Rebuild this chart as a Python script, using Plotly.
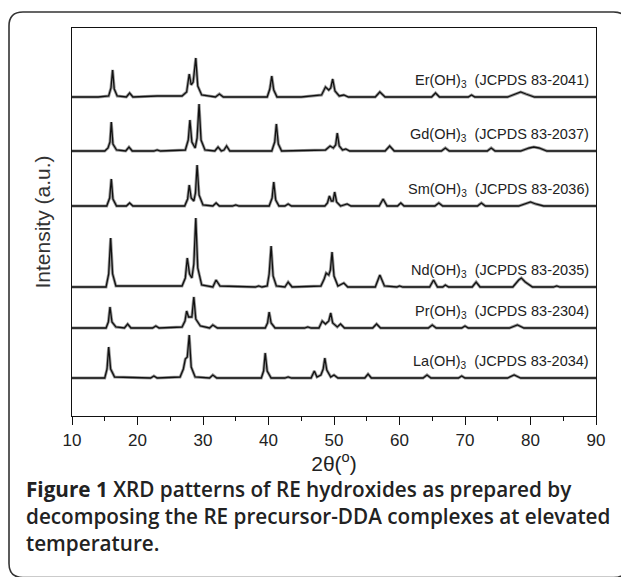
import plotly.graph_objects as go

# ---- data (2theta in degrees, intensity in a.u. above each pattern's own baseline) ----
Er_pts = [(10,1),(14,1),(15.6,2),(15.95,10),(16.2,28),(16.45,9),(16.9,2),(18.3,1),(18.8,5),(19.3,1),(23,2),(26.8,2),(27.5,6),(27.9,24),(28.2,13),(28.5,16),(28.9,40),(29.2,12),(29.8,3),(31.9,1),(32.5,4),(33.1,1),(39.8,1),(40.2,9),(40.5,22),(40.8,8),(41.3,1),(45,1),(48.1,3),(48.7,11),(49.2,8),(49.5,10),(49.8,19),(50.15,7),(50.8,2),(51.5,3),(52.2,1),(56.3,1),(57.0,6),(57.8,1),(64.9,1),(65.5,5),(66.1,1),(70.5,1),(71.0,3),(71.5,1),(76.5,1),(77.8,4),(78.5,6),(79.3,4),(80.6,1),(90,1)]
Gd_pts = [(10,1),(15.0,1),(15.5,4),(15.8,10),(16.0,30),(16.25,8),(16.8,2),(18.2,1),(18.7,5),(19.2,1),(22.5,1),(23.0,2),(23.5,1),(27.3,2),(27.75,12),(28.0,32),(28.3,10),(28.8,4),(29.1,14),(29.4,48),(29.7,12),(30.3,2),(31.8,1),(32.3,5),(32.8,1),(33.2,2),(33.6,6),(34.1,1),(40.5,1),(40.95,10),(41.2,28),(41.5,8),(42.0,1),(48.7,2),(49.4,6),(49.9,4),(50.25,7),(50.5,19),(50.8,6),(51.3,2),(51.8,3),(52.4,1),(57.8,1),(58.5,6),(59.2,1),(66.4,1),(67.0,4),(67.6,1),(73.4,1),(74.0,4),(74.6,1),(78.5,1),(79.8,4),(80.5,5),(81.3,4),(82.5,1),(90,1)]
Sm_pts = [(10,1),(15.3,1),(15.75,9),(16.0,28),(16.25,8),(16.8,1),(18.3,1),(18.8,4),(19.3,1),(27.2,1),(27.65,8),(27.9,22),(28.2,9),(28.6,6),(28.85,14),(29.1,42),(29.4,12),(30.0,2),(31.5,1),(32.0,4),(32.5,1),(34.5,1),(35.0,2),(35.5,1),(40.1,1),(40.55,9),(40.8,25),(41.1,7),(41.6,1),(42.5,1),(43.0,3),(43.5,1),(48.6,1),(49.0,4),(49.3,11),(49.6,6),(49.85,6),(50.1,15),(50.4,5),(51.0,1),(52.0,3),(52.6,1),(56.9,1),(57.5,8),(58.1,1),(59.7,1),(60.2,4),(60.7,1),(65.4,1),(66.0,4),(66.6,1),(71.9,1),(72.5,4),(73.1,1),(78.2,1),(79.4,4),(80.0,5),(80.8,3),(82.0,1),(90,1)]
Nd_pts = [(10,1),(15.2,1),(15.6,14),(15.9,50),(16.2,14),(16.7,2),(20,2),(26.8,2),(27.3,10),(27.6,30),(27.95,14),(28.3,10),(28.6,24),(28.9,70),(29.2,20),(29.8,3),(31.5,1),(32.0,8),(32.6,2),(38.0,1),(38.5,2),(39.0,1),(39.8,2),(40.1,14),(40.4,42),(40.7,12),(41.2,2),(42.5,1),(43.0,6),(43.6,1),(48.0,2),(48.5,9),(48.8,15),(49.2,13),(49.45,18),(49.7,36),(50.0,12),(50.6,2),(51.5,5),(52.1,1),(56.3,1),(57.0,13),(57.7,2),(59.6,1),(60.0,2),(60.5,1),(64.6,1),(65.2,8),(65.8,1),(66.6,1),(67.0,3),(67.5,1),(71.1,1),(71.7,6),(72.3,1),(77.3,1),(78.2,8),(78.6,10),(79.2,6),(80.3,1),(83.5,1),(84.0,2),(84.5,1),(90,1)]
Pr_pts = [(10,1),(15.2,1),(15.55,7),(15.8,22),(16.1,7),(16.7,2),(18.0,1),(18.5,5),(19.0,1),(22.3,1),(22.8,3),(23.3,1),(26.8,2),(27.25,8),(27.5,18),(27.8,12),(28.3,12),(28.6,32),(28.9,10),(29.6,3),(31.0,1),(31.5,4),(32.2,1),(39.5,1),(39.85,6),(40.1,17),(40.4,6),(41.0,1),(45.5,1),(46.0,2),(46.5,1),(47.7,1),(48.2,8),(48.7,5),(49.2,8),(49.5,16),(49.8,6),(50.5,2),(51.0,5),(51.6,1),(55.9,1),(56.5,5),(57.1,1),(64.4,1),(65.0,4),(65.6,1),(69.5,1),(70.0,3),(70.5,1),(76.8,1),(78.0,4),(79.0,1),(90,1)]
La_pts = [(10,1),(15.0,1),(15.35,10),(15.6,32),(15.9,10),(16.5,2),(22.0,1),(22.5,3),(23.0,1),(26.5,2),(27.0,10),(27.3,20),(27.6,22),(27.9,44),(28.2,12),(28.8,2),(31.0,1),(31.5,4),(32.1,1),(38.9,1),(39.25,8),(39.5,26),(39.8,8),(40.4,1),(42.5,1),(43.0,2),(43.5,1),(46.5,1),(47.0,8),(47.4,2),(48.0,4),(48.35,10),(48.6,21),(48.9,9),(49.5,2),(50.0,4),(50.6,1),(54.7,1),(55.2,5),(55.7,1),(63.6,1),(64.2,4),(64.8,1),(69.0,1),(69.5,3),(70.0,1),(76.5,1),(77.5,4),(78.5,1),(90,1)]

series_names = ["Er", "Gd", "Sm", "Nd", "Pr", "La"]
series_points = [Er_pts, Gd_pts, Sm_pts, Nd_pts, Pr_pts, La_pts]
series_offsets = [318, 264, 209, 128, 87, 37]
series_labels = ["Er(OH)<sub>3</sub>  (JCPDS 83-2041)", "Gd(OH)<sub>3</sub>  (JCPDS 83-2037)",
                 "Sm(OH)<sub>3</sub>  (JCPDS 83-2036)", "Nd(OH)<sub>3</sub>  (JCPDS 83-2035)",
                 "Pr(OH)<sub>3</sub>  (JCPDS 83-2304)", "La(OH)<sub>3</sub>  (JCPDS 83-2034)"]
x_ticks = [10, 20, 30, 40, 50, 60, 70, 80, 90]
caption_lines = ["<b>Figure 1</b> XRD patterns of RE hydroxides as prepared by",
                 "decomposing the RE precursor-DDA complexes at elevated",
                 "temperature."]

# ---- layout geometry (page pixels; the page body has an 8px margin) ----
OFF = 8
W, H = 629 - OFF, 577 - OFF
L, R, T, B = 72 - OFF, 596 - OFF, 28 - OFF, 416 - OFF
YMAX = B - T

def px(p):
    return (p - OFF - L) / (R - L)

def py(p):
    return (B - (p - OFF)) / (B - T)

fig = go.Figure()
for name, pts, off, lab in zip(series_names, series_points, series_offsets, series_labels):
    xs = [p[0] for p in pts]
    ys = [p[1] + off for p in pts]
    fig.add_trace(go.Scatter(x=xs, y=ys, mode="lines", line=dict(color="#9a9a9a", width=3.0),
                             hoverinfo="skip", showlegend=False))
    fig.add_trace(go.Scatter(x=xs, y=ys, mode="lines", line=dict(color="#111111", width=1.3),
                             name=name, showlegend=False))
    fig.add_annotation(x=89.2, y=off + 17, xref="x", yref="y", text=lab, showarrow=False,
                       xanchor="right", yanchor="middle",
                       font=dict(family="Liberation Sans, Arial, sans-serif", size=14.5, color="#222"))

# caption
cap_y = [489, 516, 543]
for txt, yy in zip(caption_lines, cap_y):
    fig.add_annotation(x=px(24), y=py(yy), xref="paper", yref="paper", text=txt, showarrow=False,
                       xanchor="left", yanchor="middle",
                       font=dict(family="Open Sans, sans-serif", size=20.7, color="#222", weight=600))

# rounded outer frame
x0, y0, x1, y1, r = 9, 12, 627.5, 577.5, 14
path = (f"M {px(x0+r)},{py(y0)} L {px(x1-r)},{py(y0)} Q {px(x1)},{py(y0)} {px(x1)},{py(y0+r)} "
        f"L {px(x1)},{py(y1-r)} Q {px(x1)},{py(y1)} {px(x1-r)},{py(y1)} "
        f"L {px(x0+r)},{py(y1)} Q {px(x0)},{py(y1)} {px(x0)},{py(y1-r)} "
        f"L {px(x0)},{py(y0+r)} Q {px(x0)},{py(y0)} {px(x0+r)},{py(y0)} Z")
fig.add_shape(type="path", path=path, xref="paper", yref="paper",
              line=dict(color="#333", width=1.6), fillcolor="rgba(0,0,0,0)")

fig.update_layout(
    width=W, height=H,
    margin=dict(l=L, r=W - R, t=T, b=H - B),
    paper_bgcolor="white", plot_bgcolor="white",
    font=dict(family="Liberation Sans, Arial, sans-serif", color="#222"),
    xaxis=dict(range=[10, 90], tickvals=x_ticks, ticks="outside", ticklen=8, tickwidth=1,
               tickcolor="#111", showline=True, linecolor="#111", linewidth=1.2, mirror=True,
               showgrid=False, zeroline=False, tickfont=dict(size=17, color="#222"),
               minor=dict(dtick=5, ticks="outside", ticklen=4, tickcolor="#111", showgrid=False),
               title=dict(text="2θ(<sup>o</sup>)", font=dict(size=21, color="#222"), standoff=6)),
    yaxis=dict(range=[0, YMAX], showticklabels=False, ticks="", showline=True, linecolor="#111",
               linewidth=1.2, mirror=True, showgrid=False, zeroline=False,
               title=dict(text="Intensity (a.u.)", font=dict(size=21, color="#333"), standoff=14)),
)

fig.write_html("out.html")
